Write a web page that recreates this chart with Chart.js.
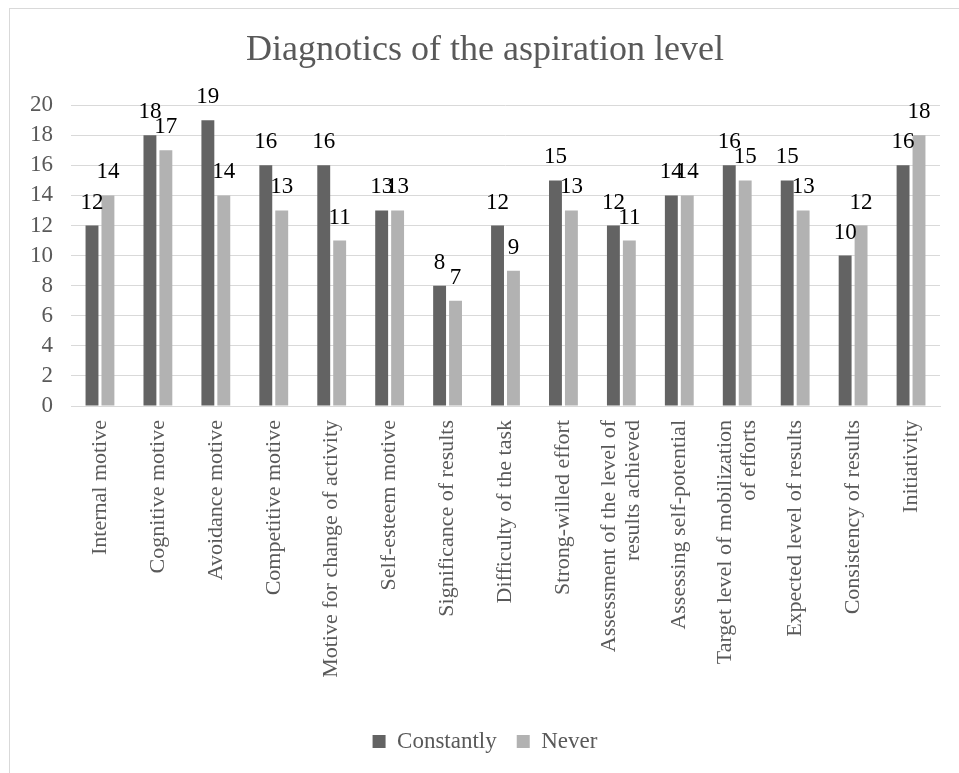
<!DOCTYPE html>
<html>
<head>
<meta charset="utf-8">
<script src="https://cdn.jsdelivr.net/npm/chart.js@4/dist/chart.umd.min.js"></script>
<style>
  html,body{margin:0;padding:0;background:#fff;overflow:hidden;}
  #ramme{position:absolute;left:9px;top:8px;width:1000px;height:800px;border:1px solid #d9d9d9;}
  #boks{position:absolute;left:0;top:0;width:959px;height:773px;}
</style>
</head>
<body>
<div id="ramme"></div>
<div id="boks"><canvas id="chart"></canvas></div>
<script>
// kategorier og verdier
const kategorier = [
  "Internal motive",
  "Cognitive motive",
  "Avoidance motive",
  "Competitive motive",
  "Motive for change of activity",
  "Self-esteem motive",
  "Significance of results",
  "Difficulty of the task",
  "Strong-willed effort",
  ["Assessment of the level of", "results achieved"],
  "Assessing self-potential",
  ["Target level of mobilization", "of efforts"],
  "Expected level of results",
  "Consistency of results",
  "Initiativity"
];
const constantly = [12, 18, 19, 16, 16, 13, 8, 12, 15, 12, 14, 16, 15, 10, 16];
const never      = [14, 17, 14, 13, 11, 13, 7, 9, 13, 11, 14, 15, 13, 12, 18];
const yTicks = [0, 2, 4, 6, 8, 10, 12, 14, 16, 18, 20];

const font = '"Liberation Serif", "Times New Roman", serif';
const gra = "#595959";

// tall over søylene
const verdiTekst = {
  id: "verdiTekst",
  afterDatasetsDraw(c){
    const ctx = c.ctx;
    ctx.save();
    ctx.font = "23px " + font;
    ctx.fillStyle = "#000";
    ctx.textAlign = "center";
    ctx.textBaseline = "alphabetic";
    c.data.datasets.forEach((ds, i) => {
      c.getDatasetMeta(i).data.forEach((bar, j) => {
        ctx.fillText(ds.data[j], bar.x, bar.y - 17);
      });
    });
    ctx.restore();
  }
};

// kategorinavn, loddrett, linjene sentrert rundt tick
const kategoriTekst = {
  id: "kategoriTekst",
  afterDraw(c){
    const sx = c.scales.x;
    const ctx = c.ctx;
    const lh = 24;
    ctx.save();
    ctx.font = "22px " + font;
    ctx.fillStyle = gra;
    ctx.textAlign = "right";
    ctx.textBaseline = "middle";
    kategorier.forEach((lab, i) => {
      const linjer = Array.isArray(lab) ? lab : [lab];
      const x = sx.getPixelForTick(i);
      linjer.forEach((l, k) => {
        ctx.save();
        ctx.translate(x + (k - (linjer.length - 1) / 2) * lh, sx.top + 14);
        ctx.rotate(-Math.PI / 2);
        ctx.fillText(l, 0, 0);
        ctx.restore();
      });
    });
    ctx.restore();
  }
};

new Chart(document.getElementById("chart"), {
  type: "bar",
  data: {
    labels: kategorier,
    datasets: [
      {label: "Constantly", data: constantly, backgroundColor: "#636363", categoryPercentage: 0.55, barPercentage: 0.81},
      {label: "Never", data: never, backgroundColor: "#b2b2b2", categoryPercentage: 0.55, barPercentage: 0.81}
    ]
  },
  options: {
    responsive: true,
    maintainAspectRatio: false,
    animation: false,
    layout: {padding: {left: 30, right: 19, top: 10, bottom: 10}},
    plugins: {
      title: {
        display: true,
        text: "Diagnotics of the aspiration level",
        color: gra,
        font: {family: font, size: 36, weight: "normal"},
        padding: {top: 19, bottom: 33}
      },
      legend: {
        position: "bottom",
        labels: {
          color: gra,
          font: {family: font, size: 23},
          boxWidth: 13,
          boxHeight: 13,
          padding: 20
        }
      },
      tooltip: {enabled: false}
    },
    scales: {
      x: {
        grid: {display: false},
        border: {color: "#d9d9d9"},
        ticks: {display: false},
        afterFit: s => { s.height = 304; }
      },
      y: {
        min: 0, max: 20,
        afterBuildTicks: s => { s.ticks = yTicks.map(v => ({value: v})); },
        grid: {color: "#d9d9d9", drawTicks: false},
        border: {display: false},
        ticks: {color: gra, font: {family: font, size: 23}, padding: 18, autoSkip: false},
        afterFit: s => { s.width = 41; }
      }
    }
  },
  plugins: [verdiTekst, kategoriTekst]
});
</script>
</body>
</html>
